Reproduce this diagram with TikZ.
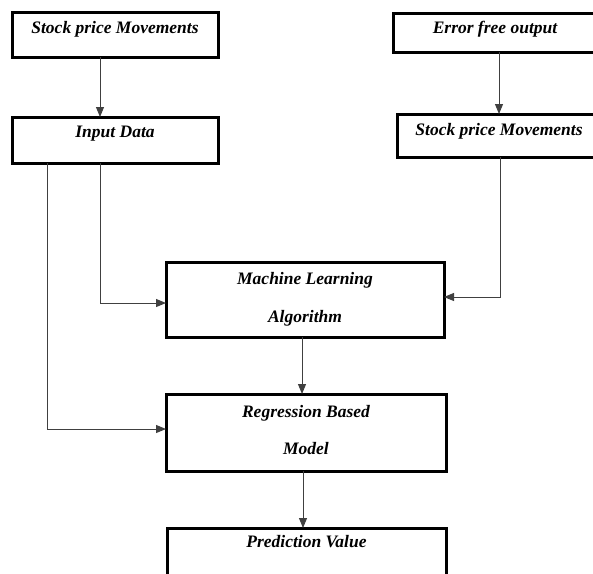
\documentclass[tikz,border=0pt]{standalone}
\usepackage{fontspec}
\setmainfont{Liberation Serif}
\usepackage{tikz}
\usetikzlibrary{positioning,arrows.meta}

\begin{document}
\begin{tikzpicture}[x=1pt, y=-1pt, font=\bfseries\itshape\fontsize{17.5}{21}\selectfont,
		box/.style={draw, line width=3pt, outer sep=0pt, align=center},
		arr/.style={draw=black!75, line width=1pt, -{Triangle[length=10pt,width=8pt]}}]
		\useasboundingbox (0,0) rectangle (593,573);
		\clip (0,0) rectangle (593,573);
		\node[box, minimum width=206pt, minimum height=45pt, text height=10pt, text depth=13pt] (stockL) at (115,34.5) {Stock price Movements};
		\node[box, minimum width=206pt, minimum height=46pt, text height=10pt, text depth=16pt, below=60pt of stockL] (input) {Input Data};
		\node[box, minimum width=204pt, minimum height=39pt, text height=10pt, text depth=9pt] (error) at (495,32.5) {Error free output};
		\node[box, minimum width=204pt, minimum height=43pt, text height=10pt, text depth=11pt] (stockR) at (499,135.5) {Stock price Movements};
		\node[box, minimum width=278pt, minimum height=75pt, text height=49pt, text depth=4pt] (mla) at (305,299.5) {Machine Learning\\[17pt] Algorithm};
		\node[box, minimum width=280pt, minimum height=77pt, text height=47pt, text depth=4pt] (reg) at (306,432.5) {Regression Based\\[16pt] Model};
		\node[box, minimum width=279pt, minimum height=60pt, text height=10pt, text depth=32pt] (pred) at (306.5,558) {Prediction Value};
		\draw[arr] ([xshift=88pt]stockL.south west) -- ([xshift=88pt]input.north west);
		\draw[arr] ([xshift=106pt]error.south west) -- ([xshift=102pt]stockR.north west);
		\draw[arr] ([xshift=88pt]input.south west) |- ([yshift=-3.5pt]mla.west);
		\draw[arr] ([xshift=35pt]input.south west) |- ([yshift=3.5pt]reg.west);
		\draw[arr] ([xshift=103pt]stockR.south west) |- ([yshift=2.5pt]mla.east);
		\draw[arr] ([xshift=-3pt]mla.south) -- ([xshift=-4pt]reg.north);
		\draw[arr] ([xshift=-3pt]reg.south) -- ([xshift=-3.5pt]pred.north);
	\end{tikzpicture}
\end{document}
